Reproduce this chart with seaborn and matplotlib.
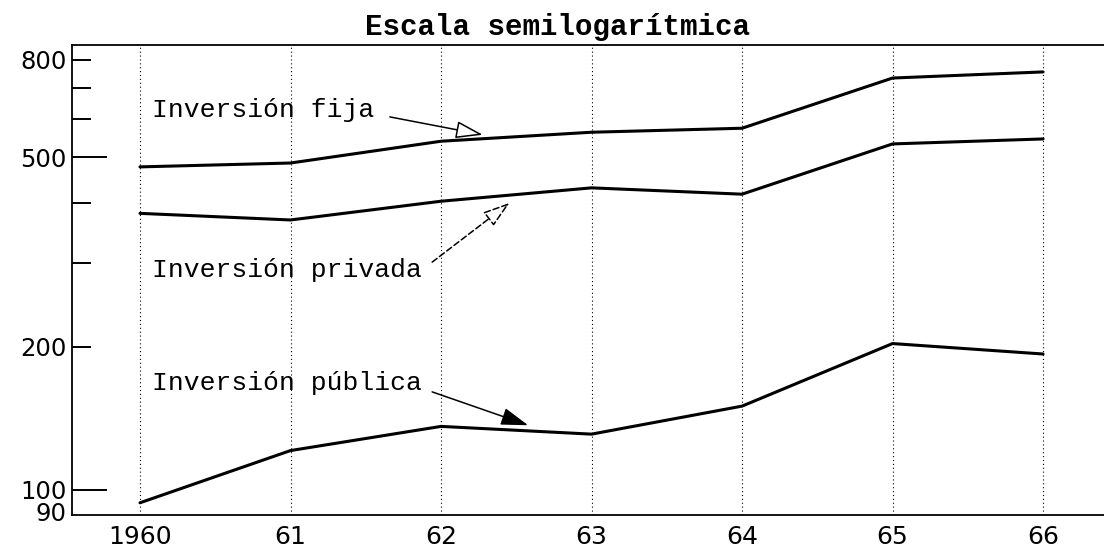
import matplotlib
matplotlib.use("Agg")
import numpy as np
import pandas as pd
import matplotlib.pyplot as plt
import seaborn as sns
from matplotlib.ticker import FixedLocator, NullFormatter

# ---- data (semi-log chart) ----
years = [1960, 1961, 1962, 1963, 1964, 1965, 1966]
year_labels = ["1960", "61", "62", "63", "64", "65", "66"]
inv_fija = [477, 486, 540, 564, 575, 733, 755]
inv_privada = [381, 369, 404, 431, 418, 533, 546]
inv_publica = [94, 121, 136, 131, 150, 203, 193]

ytick_vals = [90, 100, 200, 500, 800]
ytick_labels = ["90", "100", "200", "500", "800"]
yminor_vals = [300, 400, 600, 700]

df = pd.DataFrame({
    "year": years,
    "Inversión fija": inv_fija,
    "Inversión privada": inv_privada,
    "Inversión pública": inv_publica,
}).melt(id_vars="year", var_name="serie", value_name="valor")

sns.set_theme(style="white")
plt.rcParams["font.family"] = ["DejaVu Sans"]
plt.rcParams["text.color"] = "black"
plt.rcParams["xtick.color"] = "black"
plt.rcParams["ytick.color"] = "black"
mono = "Liberation Mono"

fig = plt.figure(figsize=(11.04, 5.52), dpi=100)
ax = fig.add_axes([0.0652, 0.067, 0.9348, 0.8515])

sns.lineplot(data=df, x="year", y="valor", hue="serie",
             palette=["black"] * 3, linewidth=2.2, legend=False, ax=ax)

ax.set_yscale("log")
ax.set_ylim(88.6, 860)
ax.set_xlim(1959.548, 1966.405)
ax.set_xlabel("")
ax.set_ylabel("")

# y axis: inward ticks, long ones at 100 and 500
ax.yaxis.set_major_locator(FixedLocator(ytick_vals))
ax.set_yticklabels(ytick_labels)
ax.yaxis.set_minor_locator(FixedLocator(yminor_vals))
ax.yaxis.set_minor_formatter(NullFormatter())
ax.tick_params(axis="y", which="both", left=True, direction="in", length=14,
               width=1.4, pad=4, labelsize=17.5, color="black",
               labelcolor="black")

# x axis: no tick marks, dotted verticals
ax.set_xticks(years, year_labels)
ax.tick_params(axis="x", length=0, pad=7, labelsize=18, labelcolor="black")
ax.grid(axis="x", color="black", linestyle=(0, (1, 2.5)), linewidth=0.8)
ax.grid(axis="y", visible=False)

for side in ["left", "bottom", "top"]:
    ax.spines[side].set_color("black")
    ax.spines[side].set_linewidth(1.3)
ax.spines["right"].set_visible(False)

for val, t in zip(ytick_vals, ax.yaxis.get_major_ticks()):
    if val in (100, 500):
        t.tick1line.set_markersize(25)
    elif val == 90:
        t.tick1line.set_markersize(0)

# labels + arrows
ax.text(0.0775, 0.847, "Inversión fija", transform=ax.transAxes,
        family=mono, fontsize=19, va="baseline", ha="left", color="black")
ax.text(0.0775, 0.506, "Inversión privada", transform=ax.transAxes,
        family=mono, fontsize=19, va="baseline", ha="left", color="black")
ax.text(0.0775, 0.266, "Inversión pública", transform=ax.transAxes,
        family=mono, fontsize=19, va="baseline", ha="left", color="black")

head = "-|>,head_length=1.4,head_width=0.45"
ax.annotate("", xy=(0.398, 0.809), xytext=(0.308, 0.847),
            xycoords="axes fraction", textcoords="axes fraction",
            arrowprops=dict(arrowstyle=head, fc="white", ec="black", lw=1.1,
                            shrinkA=0, shrinkB=0))
ax.annotate("", xy=(0.424, 0.664), xytext=(0.349, 0.538),
            xycoords="axes fraction", textcoords="axes fraction",
            arrowprops=dict(arrowstyle=head, fc="white", ec="black", lw=1.1,
                            ls=(0, (4, 2)), shrinkA=0, shrinkB=0))
ax.annotate("", xy=(0.442, 0.191), xytext=(0.349, 0.262),
            xycoords="axes fraction", textcoords="axes fraction",
            arrowprops=dict(arrowstyle=head, fc="black", ec="black", lw=1.1,
                            shrinkA=0, shrinkB=0))

fig.text(0.505, 0.951, "Escala semilogarítmica", family=mono,
         fontsize=21, weight="bold", ha="center", va="center", color="black")

fig.savefig("out.png", dpi=100, facecolor="white")
